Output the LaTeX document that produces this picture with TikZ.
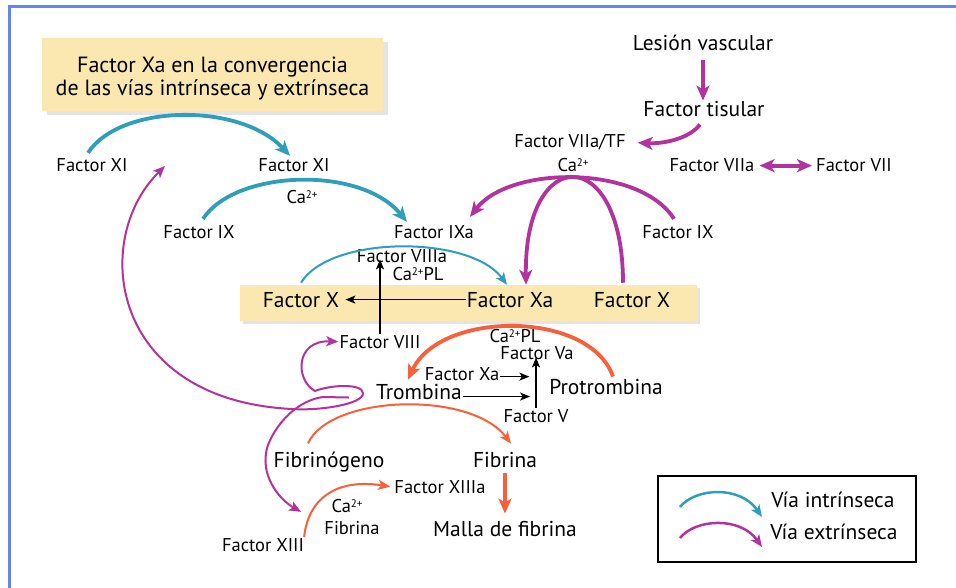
\documentclass[tikz,border=0pt]{standalone}
\usepackage{fontspec}
\setmainfont{PT Sans}
\usetikzlibrary{arrows.meta}
\definecolor{cintr}{RGB}{46,158,186}
\definecolor{cextr}{RGB}{178,50,158}
\definecolor{corg}{RGB}{246,96,58}
\definecolor{cybox}{RGB}{251,232,176}
\definecolor{cshad}{RGB}{228,228,228}
\definecolor{cframe}{RGB}{100,132,245}
\newcommand\capsup[1]{\raisebox{5pt}{\fontsize{11}{11}\selectfont #1}}
\begin{document}
\begin{tikzpicture}[x=1pt,y=-1pt,
  sm/.style={font=\fontsize{18.5}{20}\selectfont, inner sep=1pt, anchor=base},
  lg/.style={font=\fontsize{21.5}{23}\selectfont, inner sep=1pt, anchor=base},
  bigtip/.tip={Stealth[length=15pt,width=13pt,inset=4pt]},
  midtip/.tip={Stealth[length=12pt,width=10pt,inset=3pt]},
  blktip/.tip={Stealth[length=10pt,width=8pt,inset=2.5pt]},
  bluearc/.style={draw=cintr, line width=3.8pt, -bigtip},
  bluethin/.style={draw=cintr, line width=2pt, -midtip},
  magarc/.style={draw=cextr, line width=3.8pt, -bigtip},
  magthin/.style={draw=cextr, line width=2pt, -midtip},
  orgarc/.style={draw=corg, line width=3.8pt, -bigtip},
  orgthin/.style={draw=corg, line width=2pt, -midtip},
  blk/.style={draw=black, line width=1.5pt, -blktip},
  legarc/.style={line width=2.5pt, -midtip}
]
\useasboundingbox (0,0) rectangle (956,588);
% frame
\draw[cframe, line width=3pt] (9,588) -- (9,7) -- (956,7);
% title box
\fill[cshad] (47,42) rectangle (388,115);
\node[fill=cybox, minimum width=341pt, minimum height=73pt, inner sep=0pt] (titlebox) at (212.5,74.5) {};
\node[align=center, font=\fontsize{22}{23}\selectfont, inner sep=0pt] (title) at (212.5,78.5)
  {Factor Xa en la convergencia\\de las vías intrínseca y extrínseca};
% band
\fill[cshad] (243,288) rectangle (700,324);
\fill[cybox] (240,285) rectangle (697,321);

% nodes
\node[sm] (fxiL) at (92,172) {Factor XI};
\node[sm] (fxiM) at (294,172) {Factor XI};
\node[sm] (caA) at (302,204) {Ca\capsup{2+}};
\node[sm] (fixL) at (199,239) {Factor IX};
\node[sm] (fixa) at (434,239) {Factor IXa};
\node[sm] (fviiia) at (402,262) {Factor VIIIa};
\node[sm] (caplA) at (418,280) {Ca\capsup{2+}PL};
\node[lg] (fX) at (301,307) {Factor X};
\node[lg] (fXa) at (510,307) {Factor Xa};
\node[lg] (fXR) at (632,307) {Factor X};
\node[sm] (fviii) at (380,348) {Factor VIII};
\node[sm] (caplB) at (515,342) {Ca\capsup{2+}PL};
\node[sm] (fva) at (537,359) {Factor Va};
\node[sm] (fxas) at (462,380) {Factor Xa};
\node[lg] (trom) at (419,399) {Trombina};
\node[lg] (prot) at (606,394) {Protrombina};
\node[sm] (fv) at (536,422) {Factor V};
\node[lg] (fibg) at (329,467) {Fibrinógeno};
\node[lg] (fibr) at (505,467) {Fibrina};
\node[lg] (malla) at (505,536) {Malla de fibrina};
\node[sm] (fxiiia) at (440,493) {Factor XIIIa};
\node[sm] (caB) at (347,512) {Ca\capsup{2+}};
\node[sm] (fibs) at (352,534) {Fibrina};
\node[sm] (fxiii) at (263,551) {Factor XIII};
\node[lg] (lesion) at (703,51) {Lesión vascular};
\node[lg] (tisular) at (704,117) {Factor tisular};
\node[sm] (viiatf) at (570,148) {Factor VIIa/TF};
\node[sm] (caC) at (573,172) {Ca\capsup{2+}};
\node[sm] (viia) at (712,172) {Factor VIIa};
\node[sm] (vii) at (854,172) {Factor VII};
\node[sm] (fixR) at (678,239) {Factor IX};
\node[lg] (vint) at (833,507) {Vía intrínseca};
\node[lg] (vext) at (834,539) {Vía extrínseca};
\coordinate (fbk) at (165,166);

% intrinsic
\draw[bluearc] ([xshift=-4pt,yshift=5pt]fxiL.north) .. controls (120,104) and (240,102) .. ([xshift=-4pt,yshift=2pt]fxiM.north);
\draw[bluearc] ([xshift=4pt,yshift=6pt]fixL.north) .. controls (235,170) and (360,165) .. ([xshift=-27pt,yshift=3pt]fixa.north);
\draw[bluethin] ([yshift=8pt]fX.north) .. controls (330,235) and (470,235) .. ([xshift=-3pt,yshift=6pt]fXa.north);

% extrinsic
\draw[magarc] ([yshift=-8pt]lesion.south) -- (lesion.south |- tisular.north);
\draw[magarc] ([xshift=-4pt,yshift=-6pt]tisular.south) .. controls (690,138) and (665,144) .. ([xshift=11pt]viiatf.east);
\draw[magarc, bigtip-bigtip, shorten <=4pt, shorten >=3pt] (viia.east) -- (vii.west);
\draw[magarc] ([xshift=-4pt,yshift=6pt]fixR.north) .. controls (640,165) and (510,165) .. ([xshift=36pt,yshift=8pt]fixa.north);
\draw[magarc] ([xshift=-9pt,yshift=8pt]fXR.north) .. controls (623,143) and (524,143) .. ([xshift=16pt,yshift=6pt]fXa.north);

% thrombin feedback
\draw[magthin, midtip-midtip] (fviii.west) .. controls (295,340) and (295,380) .. (315,391)
  .. controls (330,385) and (362,383) .. (363,393)
  .. controls (364,404) and (320,411) .. (292,409)
  .. controls (110,400) and (90,240) .. (fbk);
\draw[magthin] ([xshift=-26pt,yshift=-6pt]trom.west) -- (323,397) .. controls (300,400) and (278,420) .. (268,445)
  .. controls (258,475) and (280,500) .. ([xshift=-4pt,yshift=25pt]fxiii.north east);

% common pathway
\draw[orgarc] ([xshift=7pt,yshift=1pt]prot.north) .. controls (590,310) and (440,310) .. ([xshift=-11pt,yshift=3pt]trom.north);
\draw[orgthin] ([xshift=-21pt,yshift=7pt]fibg.north) .. controls (330,395) and (470,390) .. ([xshift=6pt,yshift=7pt]fibr.north);
\draw[orgarc, shorten >=6pt] ([yshift=-5pt]fibr.south) -- (fibr.south |- malla.north);
\draw[orgthin] ([xshift=-1pt]fxiii.north east) .. controls (308,500) and (335,478) .. ([xshift=-3pt]fxiiia.west);

% black arrows
\draw[blk] (fXa.west) -- ([xshift=5pt]fX.east);
\draw[blk, shorten >=-4pt] (fviii.north) -- (fviii.north |- fviiia.south);
\draw[blk, shorten >=-3pt] (fv.north) -- (fv.north |- fva.south);
\draw[blk] ([yshift=-3pt]fxas.east) -- ++(29,0);
\draw[blk] ([yshift=-5pt]trom.east) -- ++(67,0);

% legend
\draw[line width=1.5pt] (658,476) rectangle (916,562);
\draw[legarc, cintr] (680,507) .. controls (695,488) and (740,485) .. (762,517);
\draw[legarc, cextr] (680,538) .. controls (695,519) and (740,516) .. (762,547);
\end{tikzpicture}
\end{document}
